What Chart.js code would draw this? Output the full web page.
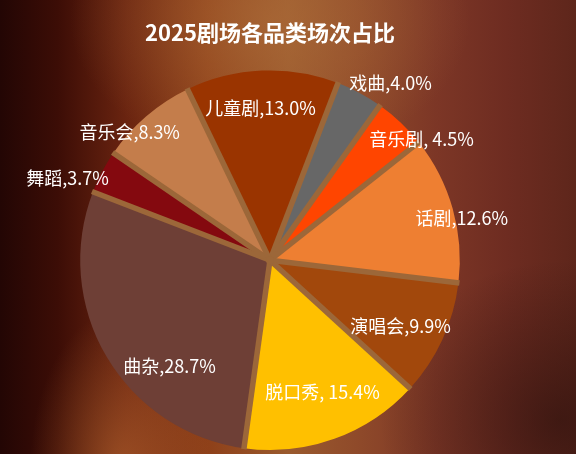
<!DOCTYPE html>
<html>
<head>
<meta charset="utf-8">
<script src="https://cdn.jsdelivr.net/npm/chart.js@4.4.1/dist/chart.umd.min.js"></script>
<style>
  html, body { margin: 0; padding: 0; }
  #wrap {
    position: relative;
    width: 576px;
    height: 454px;
    overflow: hidden;
    background:
      radial-gradient(ellipse 90px 160px at 120px 470px, rgba(205,120,55,0.5), rgba(205,120,55,0) 100%),
      radial-gradient(ellipse 200px 140px at 270px 20px, rgba(175,110,58,0.6), rgba(175,110,58,0) 100%),
      radial-gradient(ellipse 180px 160px at 560px 420px, rgba(40,15,12,0.6), rgba(40,15,12,0) 100%),
      linear-gradient(to right, #230604 0%, #3c0d06 10%, #6a2410 22%, #8e4019 36%, #9a5a2e 50%, #8f4a2a 62%, #7c3626 76%, #6e2c21 88%, #5e261b 100%);
  }
  canvas { position: absolute; left: 0; top: 0; }
</style>
</head>
<body>
<div id="wrap"><canvas id="myChart" width="576" height="454"></canvas></div>
<script>
// Datos del gráfico
const categorias = ['戏曲', '音乐剧', '话剧', '演唱会', '脱口秀', '曲杂', '舞蹈', '音乐会', '儿童剧'];
const porcentajes = [4.0, 4.5, 12.6, 9.9, 15.4, 28.7, 3.7, 8.3, 13.0];
const etiquetas = ['戏曲,4.0%', '音乐剧, 4.5%', '话剧,12.6%', '演唱会,9.9%', '脱口秀, 15.4%', '曲杂,28.7%', '舞蹈,3.7%', '音乐会,8.3%', '儿童剧,13.0%'];

// Estilos
const colores = ['#676767', '#ff4500', '#ee7f32', '#a2480c', '#ffc000', '#6e3f36', '#84090f', '#c47d4b', '#9a3400'];
// posición de cada etiqueta: [factor del radio, desplazamiento del ángulo en grados]
const posEtiquetas = [[1.13, 6], [1.02, 8], [1.035, 3.4], [0.77, 2], [0.75, -1.8], [0.77, -16], [1.15, -5.8], [1.0, -7], [0.8, -1.2]];

// Separadores entre porciones
const separadores = {
  id: 'separadores',
  afterDatasetsDraw(chart) {
    const ctx = chart.ctx;
    const arcs = chart.getDatasetMeta(0).data;
    ctx.save();
    ctx.strokeStyle = '#9c6739';
    ctx.lineWidth = 5.5;
    arcs.forEach(arc => {
      const p = arc.getProps(['x', 'y', 'startAngle', 'outerRadius'], true);
      ctx.beginPath();
      ctx.moveTo(p.x, p.y);
      ctx.lineTo(p.x + Math.cos(p.startAngle) * (p.outerRadius + 1), p.y + Math.sin(p.startAngle) * (p.outerRadius + 1));
      ctx.stroke();
    });
    ctx.beginPath();
    ctx.fillStyle = '#9c6739';
    ctx.arc(arcs[0].x, arcs[0].y, 4, 0, Math.PI * 2);
    ctx.fill();
    ctx.restore();
  }
};

// Etiquetas de cada porción
const etiquetasPlugin = {
  id: 'etiquetasPlugin',
  afterDatasetsDraw(chart) {
    const ctx = chart.ctx;
    const arcs = chart.getDatasetMeta(0).data;
    ctx.save();
    ctx.fillStyle = '#ffffff';
    ctx.font = '18px "Noto Sans CJK SC", "Noto Sans", sans-serif';
    ctx.textAlign = 'center';
    ctx.textBaseline = 'middle';
    arcs.forEach((arc, i) => {
      const p = arc.getProps(['x', 'y', 'startAngle', 'endAngle', 'outerRadius'], true);
      const ang = (p.startAngle + p.endAngle) / 2 + posEtiquetas[i][1] * Math.PI / 180;
      const r = p.outerRadius * posEtiquetas[i][0];
      ctx.fillText(etiquetas[i], p.x + Math.cos(ang) * r, p.y + Math.sin(ang) * r);
    });
    ctx.restore();
  }
};

const ctx = document.getElementById('myChart').getContext('2d');
const chart = new Chart(ctx, {
  type: 'pie',
  data: {
    labels: categorias,
    datasets: [{
      data: porcentajes,
      backgroundColor: colores,
      borderWidth: 0
    }]
  },
  options: {
    responsive: false,
    animation: false,
    rotation: 21,
    layout: { padding: { left: 80, right: 116, top: 0, bottom: 4 } },
    plugins: {
      legend: { display: false },
      tooltip: { enabled: false },
      title: {
        display: true,
        text: '2025剧场各品类场次占比',
        color: '#ffffff',
        font: { family: '"Noto Sans CJK SC", "Noto Sans", sans-serif', size: 22, weight: 'bold' },
        padding: { top: 19, bottom: 25 }
      }
    }
  },
  plugins: [separadores, etiquetasPlugin]
});
</script>
</body>
</html>
